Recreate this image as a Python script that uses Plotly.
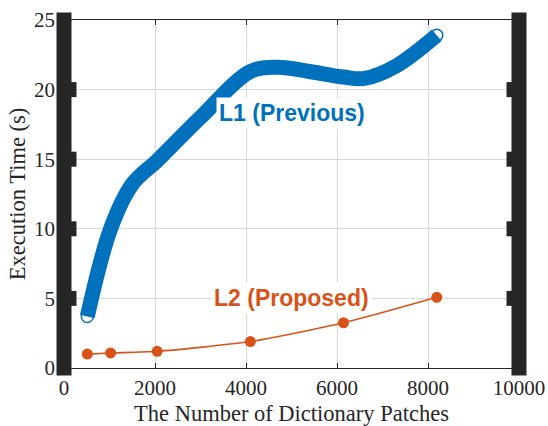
import plotly.graph_objects as go

# ---- data ----
X_TICKS = [0, 2000, 4000, 6000, 8000, 10000]
Y_TICKS = [0, 5, 10, 15, 20, 25]

L1_X = [512, 1024, 1500, 2048, 3000, 4096, 4700, 5400, 6144, 6600, 7300, 8192]
L1_Y = [3.7, 10.0, 13.2, 14.9, 18.0, 21.3, 21.6, 21.3, 20.9, 20.8, 21.7, 23.9]

L2_X = [512, 1024, 2048, 4096, 6144, 8192]
L2_Y = [1.0, 1.08, 1.2, 1.9, 3.25, 5.08]

L1_LABEL = "L1 (Previous)"
L2_LABEL = "L2 (Proposed)"
X_TITLE = "The Number of Dictionary Patches"
Y_TITLE = "Execution Time (s)"

BLUE = "#0072BD"
ORANGE = "#D95319"
AXC = "#262626"
GRID = "#d9d9d9"

W, H = 548, 426
ML, MR, MT, MB = 64, 29, 20, 58
PH = H - MT - MB

fig = go.Figure()

fig.add_trace(go.Scatter(
    x=L1_X, y=L1_Y, mode="lines",
    line=dict(color=BLUE, width=15, shape="spline", smoothing=1.0),
    hoverinfo="skip", showlegend=False))
fig.add_trace(go.Scatter(
    x=[L1_X[0], L1_X[-1]], y=[L1_Y[0], L1_Y[-1]], mode="markers",
    marker=dict(symbol="circle-open", size=12, color=BLUE, line=dict(width=1.5, color=BLUE)),
    showlegend=False))

fig.add_trace(go.Scatter(
    x=L2_X, y=L2_Y, mode="lines+markers",
    line=dict(color=ORANGE, width=1.6, shape="spline", smoothing=0.6),
    marker=dict(symbol="circle", size=11, color=ORANGE),
    showlegend=False))

shapes = []
pad = 7.5 / PH
for xa in (0, 1):
    shapes.append(dict(type="rect", xref="paper", xsizemode="pixel", xanchor=xa,
                       x0=-7.5, x1=7.5, yref="paper", y0=-pad, y1=1 + pad,
                       fillcolor=AXC, line=dict(width=0), layer="above"))
for v in Y_TICKS[1:-1]:
    shapes.append(dict(type="rect", xref="paper", xsizemode="pixel", xanchor=0,
                       x0=0, x1=12.5, yref="y", ysizemode="pixel", yanchor=v,
                       y0=-7.5, y1=7.5, fillcolor=AXC, line=dict(width=0), layer="above"))
    shapes.append(dict(type="rect", xref="paper", xsizemode="pixel", xanchor=1,
                       x0=-12.5, x1=0, yref="y", ysizemode="pixel", yanchor=v,
                       y0=-7.5, y1=7.5, fillcolor=AXC, line=dict(width=0), layer="above"))

fig.update_layout(
    width=W, height=H,
    margin=dict(l=ML, r=MR, t=MT, b=MB, pad=0, autoexpand=False),
    paper_bgcolor="white", plot_bgcolor="white",
    font=dict(family="Liberation Serif", size=21, color=AXC),
    shapes=shapes,
    annotations=[
        dict(x=5000, y=18.3, xref="x", yref="y", text=L1_LABEL, showarrow=False,
             font=dict(family="Liberation Sans", size=23, color=BLUE, weight="bold"),
             bgcolor="white", borderpad=2),
        dict(x=5000, y=5.0, xref="x", yref="y", text=L2_LABEL, showarrow=False,
             font=dict(family="Liberation Sans", size=23, color=ORANGE, weight="bold"),
             bgcolor="white", borderpad=2),
    ],
)

fig.update_xaxes(
    range=[0, 10000], tickvals=X_TICKS, ticktext=[str(v) for v in X_TICKS],
    showline=True, linewidth=1, linecolor=AXC, mirror="ticks",
    ticks="inside", ticklen=5, tickwidth=1, tickcolor=AXC,
    showgrid=True, gridcolor=GRID, gridwidth=1, zeroline=False,
    ticklabelstandoff=1, automargin=False,
    title=dict(text=X_TITLE, font=dict(size=22.5), standoff=7),
)
fig.update_yaxes(
    range=[0, 25], tickvals=Y_TICKS, ticktext=[str(v) for v in Y_TICKS],
    showline=False, ticks="",
    showgrid=True, gridcolor=GRID, gridwidth=1, zeroline=False,
    ticklabelstandoff=8, automargin=False,
    title=dict(text=Y_TITLE, font=dict(size=22.5), standoff=2),
)

fig.write_html("out.html", config={"displayModeBar": False},
               post_script="document.body.style.margin='0px';document.body.style.overflow='hidden';")
